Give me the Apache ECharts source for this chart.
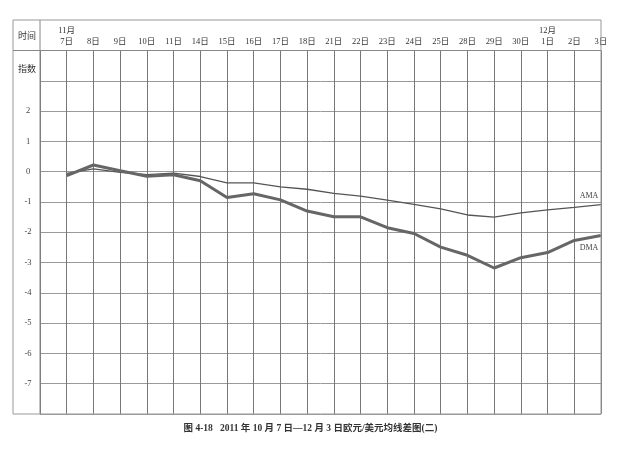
<!DOCTYPE html>
<html>
<head>
<meta charset="utf-8">
<script src="https://cdn.jsdelivr.net/npm/echarts@6/dist/echarts.min.js"></script>
<style>
  html, body { margin: 0; padding: 0; background: #fff; }
  #chart { width: 621px; height: 451px; }
</style>
</head>
<body>
<div id="chart"></div>
<script>
// trading days, 2011-11-07 .. 2011-12-03
const dayLabels = ["7日", "8日", "9日", "10日", "11日", "14日", "15日", "16日", "17日", "18日",
  "21日", "22日", "23日", "24日", "25日", "28日", "29日", "30日", "1日", "2日", "3日"];
const monthLabels = { 0: "11月", 18: "12月" };

// average spread (thin line) and daily spread (thick line)
const amaValues = [-0.06, 0.09, -0.02, -0.1, -0.05, -0.16, -0.37, -0.37, -0.5, -0.58,
  -0.72, -0.81, -0.94, -1.08, -1.23, -1.43, -1.5, -1.36, -1.26, -1.18, -1.09];
const dmaValues = [-0.13, 0.22, 0.03, -0.15, -0.1, -0.3, -0.85, -0.73, -0.93, -1.3,
  -1.49, -1.49, -1.85, -2.04, -2.49, -2.76, -3.18, -2.84, -2.67, -2.27, -2.11];

const yTickLabels = ["2", "1", "0", "-1", "-2", "-3", "-4", "-5", "-6", "-7"];

const FONT = "'Liberation Serif', 'Noto Sans CJK SC', serif";

const chart = echarts.init(document.getElementById("chart"));

const option = {
  backgroundColor: "#fff",
  animation: false,
  grid: { left: 40, right: 20, top: 50.5, bottom: 37 },
  xAxis: {
    type: "value",
    position: "top",
    min: -1,
    max: 20,
    interval: 1,
    axisLine: { show: false },
    axisTick: { show: false },
    splitLine: { show: true, lineStyle: { color: "#777", width: 1 } },
    axisLabel: {
      margin: 3,
      fontSize: 8.5,
      lineHeight: 11,
      color: "#333",
      fontFamily: FONT,
      showMinLabel: true,
      showMaxLabel: true,
      formatter: v => {
        if (v < 0) return "";
        const d = dayLabels[v] || "";
        return monthLabels[v] ? monthLabels[v] + "\n" + d : d;
      }
    }
  },
  yAxis: {
    type: "value",
    min: -8,
    max: 4,
    interval: 1,
    axisLine: { show: false },
    axisTick: { show: false },
    splitLine: { show: true, lineStyle: { color: "#9a9a9a", width: 1 } },
    axisLabel: {
      margin: 12,
      align: "center",
      fontSize: 8.5,
      color: "#444",
      fontFamily: FONT,
      formatter: v => (yTickLabels.indexOf(String(v)) >= 0 ? String(v) : "")
    }
  },
  graphic: [
    // table frame
    { type: "rect", shape: { x: 13, y: 20, width: 588, height: 394 },
      style: { fill: "none", stroke: "#999", lineWidth: 1 }, z: 100 },
    { type: "line", shape: { x1: 13, y1: 50.5, x2: 601, y2: 50.5 },
      style: { stroke: "#888", lineWidth: 1 }, z: 100 },
    { type: "line", shape: { x1: 40, y1: 20, x2: 40, y2: 414 },
      style: { stroke: "#888", lineWidth: 1 }, z: 100 },
    { type: "text", left: 18, top: 32,
      style: { text: "时间", fontSize: 9, fill: "#333", fontFamily: FONT } },
    { type: "text", left: 18, top: 65,
      style: { text: "指数", fontSize: 9, fill: "#333", fontFamily: FONT } },
    { type: "text", left: "center", top: 424,
      style: { text: "图 4-18   2011 年 10 月 7 日—12 月 3 日欧元/美元均线差图(二)",
        fontSize: 9.5, fontWeight: "bold", fill: "#333", fontFamily: FONT } }
  ],
  series: [
    {
      name: "AMA",
      type: "line",
      data: amaValues.map((v, i) => [i, v]),
      symbol: "none",
      lineStyle: { color: "#555", width: 1.3 },
      itemStyle: { color: "#555" },
      endLabel: {
        show: true,
        formatter: "{a}",
        align: "center",
        offset: [-20, -9],
        fontSize: 8,
        color: "#444",
        fontFamily: FONT
      }
    },
    {
      name: "DMA",
      type: "line",
      data: dmaValues.map((v, i) => [i, v]),
      symbol: "none",
      lineStyle: { color: "#666", width: 3 },
      itemStyle: { color: "#666" },
      endLabel: {
        show: true,
        formatter: "{a}",
        align: "center",
        offset: [-20, 12],
        fontSize: 8,
        color: "#444",
        fontFamily: FONT
      }
    }
  ]
};

chart.setOption(option);
window.addEventListener("resize", chart.resize);
</script>
</body>
</html>
